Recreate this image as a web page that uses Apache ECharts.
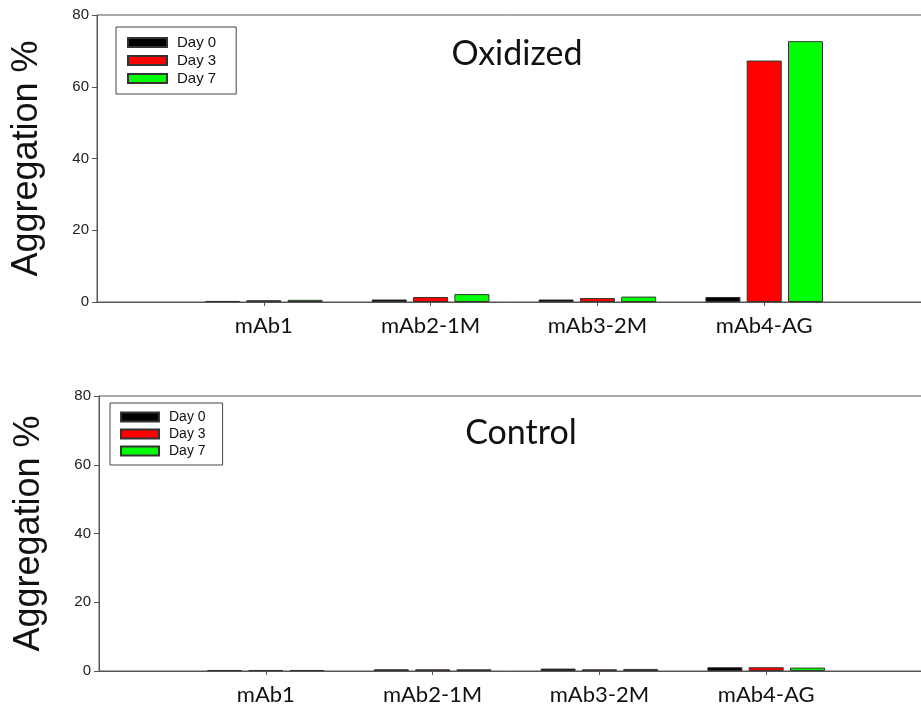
<!DOCTYPE html>
<html>
<head>
<meta charset="utf-8">
<script src="https://cdn.jsdelivr.net/npm/echarts@6/dist/echarts.min.js"></script>
<style>
html,body{margin:0;padding:0;background:#fff;}
#chart{width:921px;height:713px;}
</style>
</head>
<body>
<div id="chart"></div>
<script>
const categories = ['mAb1', 'mAb2-1M', 'mAb3-2M', 'mAb4-AG'];
const seriesNames = ['Day 0', 'Day 3', 'Day 7'];
const seriesColors = ['#000000', '#ff0000', '#00ff00'];
const yTicks = [0, 20, 40, 60, 80];

const oxidizedDay0 = [0.3, 0.7, 0.7, 1.4];
const oxidizedDay3 = [0.5, 1.4, 1.1, 67.3];
const oxidizedDay7 = [0.6, 2.2, 1.5, 72.7];

const controlDay0 = [0.3, 0.5, 0.7, 1.1];
const controlDay3 = [0.3, 0.5, 0.5, 1.1];
const controlDay7 = [0.3, 0.5, 0.6, 1.0];

const padCats = [''].concat(categories, ['']);
const pad = arr => [null].concat(arr, [null]);

const axisColor = '#555';
const catFont = 'Lato, "Open Sans", sans-serif';
const numFont = '"Liberation Sans", Arial, sans-serif';

function xAxis(gridIndex) {
  return {
    type: 'category', gridIndex: gridIndex, data: padCats, boundaryGap: false,
    axisLine: { lineStyle: { color: axisColor, width: 1 } },
    axisTick: { show: true, length: 4, interval: (i) => i > 0 && i < padCats.length - 1, lineStyle: { color: axisColor } },
    axisLabel: { interval: 0, fontFamily: catFont, fontSize: 22, color: '#111', margin: 13 },
    splitLine: { show: false }
  };
}
function yAxis(gridIndex) {
  return {
    type: 'value', gridIndex: gridIndex, min: yTicks[0], max: yTicks[yTicks.length - 1], interval: 20,
    name: 'Aggregation %', nameLocation: 'middle', nameGap: 52, nameRotate: 90,
    nameTextStyle: { fontFamily: numFont, fontSize: 36, color: '#111' },
    axisLine: { show: true, lineStyle: { color: axisColor, width: 1 } },
    axisTick: { show: true, inside: false, length: 5, lineStyle: { color: axisColor } },
    axisLabel: { fontFamily: numFont, fontSize: 15, color: '#222', margin: 8 },
    splitLine: { show: false }
  };
}
function barSeries(name, color, data, idx) {
  return {
    type: 'bar', name: name, xAxisIndex: idx, yAxisIndex: idx, data: pad(data),
    barWidth: 35, barGap: '18%',
    itemStyle: { color: color, borderColor: '#333', borderWidth: 1 },
    emphasis: { disabled: true }
  };
}
function legend(left, top, itemW, itemGap, fontSize, padding) {
  return {
    orient: 'vertical', left: left, top: top, data: seriesNames, selectedMode: false,
    itemWidth: itemW, itemHeight: 9, itemGap: itemGap,
    borderColor: '#444', borderWidth: 1, backgroundColor: '#fff', borderRadius: 0,
    padding: padding,
    icon: 'rect',
    textStyle: { fontFamily: numFont, fontSize: fontSize, color: '#111', padding: [0, 0, 0, 5] }
  };
}

const chart = echarts.init(document.getElementById('chart'), null, { renderer: 'canvas' });
chart.setOption({
  animation: false,
  backgroundColor: '#fff',
  title: [
    { text: 'Oxidized', left: 512, top: 32, textAlign: 'center',
      textStyle: { fontFamily: catFont, fontSize: 34, fontWeight: 'normal', color: '#111' } },
    { text: 'Control', left: 516, top: 411, textAlign: 'center',
      textStyle: { fontFamily: catFont, fontSize: 34, fontWeight: 'normal', color: '#111' } }
  ],
  legend: [
    legend(116, 27, 39, 3, 15, [8, 20, 8, 11]),
    legend(110, 403, 38, 3, 14, [7, 17, 7, 10])
  ],
  grid: [
    { left: 97, top: 15, height: 287, width: 834, outerBoundsMode: 'none', containLabel: false,
      show: true, borderColor: axisColor, borderWidth: 1, backgroundColor: 'transparent' },
    { left: 99, top: 396, height: 275, width: 834, outerBoundsMode: 'none', containLabel: false,
      show: true, borderColor: axisColor, borderWidth: 1, backgroundColor: 'transparent' }
  ],
  xAxis: [xAxis(0), xAxis(1)],
  yAxis: [yAxis(0), yAxis(1)],
  series: [
    barSeries(seriesNames[0], seriesColors[0], oxidizedDay0, 0),
    barSeries(seriesNames[1], seriesColors[1], oxidizedDay3, 0),
    barSeries(seriesNames[2], seriesColors[2], oxidizedDay7, 0),
    barSeries(seriesNames[0], seriesColors[0], controlDay0, 1),
    barSeries(seriesNames[1], seriesColors[1], controlDay3, 1),
    barSeries(seriesNames[2], seriesColors[2], controlDay7, 1)
  ]
});
</script>
</body>
</html>
